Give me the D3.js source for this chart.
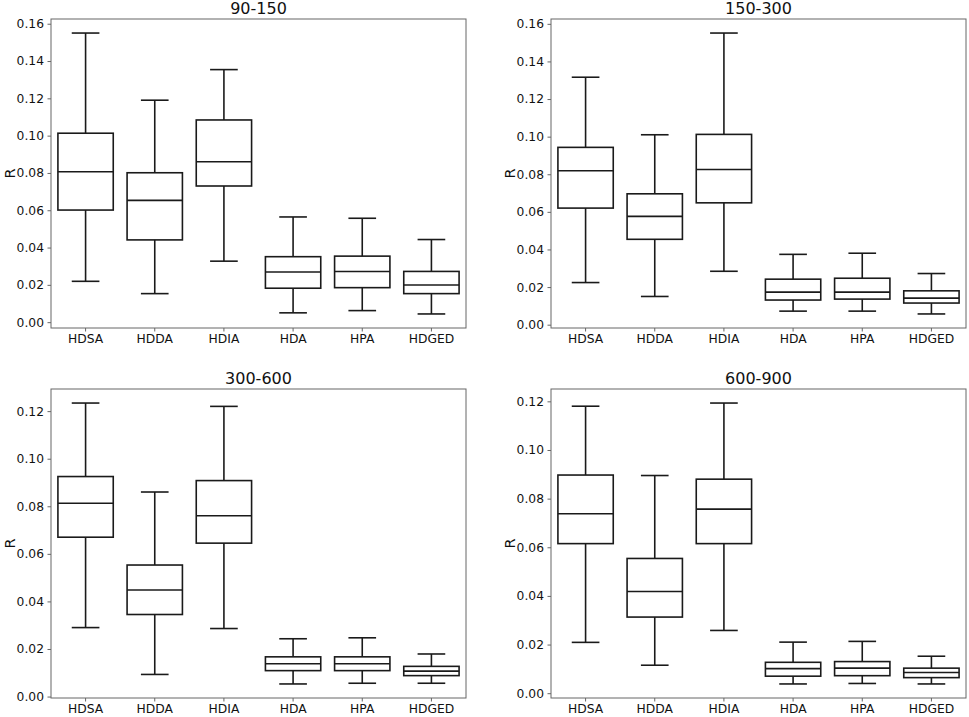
<!DOCTYPE html>
<html lang="en">
<head>
    <meta charset="UTF-8">
    <title>R by distance band</title>
    <script src="https://d3js.org/d3.v7.min.js"></script>
    <style>
        body {
            margin: 0;
            background-color: #ffffff;
            font-family: 'DejaVu Sans', sans-serif;
        }
        .axis path, .axis line {
            stroke: #666;
        }
        .axis text {
            font-family: 'DejaVu Sans', sans-serif;
            font-size: 12.3px;
            fill: #111;
        }
        .box {
            fill: none;
            stroke: #1a1a1a;
            stroke-width: 1.6px;
        }
    </style>
</head>
<body>
    <div id="chart"></div>
    <script>
        // methods on the x axis
        const categories = ["HDSA", "HDDA", "HDIA", "HDA", "HPA", "HDGED"];
        const titles = ["90-150", "150-300", "300-600", "600-900"];

        // each entry: [whisker low, Q1, median, Q3, whisker high]
        const r90_150 = [
            [0.0219, 0.0601, 0.0806, 0.1013, 0.1550],
            [0.0153, 0.0441, 0.0653, 0.0801, 0.1190],
            [0.0327, 0.0730, 0.0860, 0.1084, 0.1354],
            [0.0050, 0.0182, 0.0269, 0.0351, 0.0564],
            [0.0062, 0.0185, 0.0272, 0.0354, 0.0557],
            [0.0044, 0.0153, 0.0199, 0.0272, 0.0443]
        ];
        const r150_300 = [
            [0.0224, 0.0620, 0.0819, 0.0943, 0.1316],
            [0.0150, 0.0454, 0.0576, 0.0696, 0.1010],
            [0.0284, 0.0648, 0.0825, 0.1012, 0.1551],
            [0.0072, 0.0131, 0.0173, 0.0242, 0.0374],
            [0.0072, 0.0136, 0.0173, 0.0247, 0.0380],
            [0.0057, 0.0115, 0.0141, 0.0180, 0.0272]
        ];
        const r300_600 = [
            [0.0290, 0.0670, 0.0813, 0.0925, 0.1234],
            [0.0093, 0.0345, 0.0448, 0.0553, 0.0860],
            [0.0286, 0.0645, 0.0760, 0.0908, 0.1220],
            [0.0053, 0.0109, 0.0138, 0.0167, 0.0243],
            [0.0056, 0.0109, 0.0138, 0.0167, 0.0247],
            [0.0056, 0.0088, 0.0107, 0.0127, 0.0179]
        ];
        const r600_900 = [
            [0.0209, 0.0615, 0.0738, 0.0897, 0.1180],
            [0.0115, 0.0313, 0.0418, 0.0554, 0.0895],
            [0.0258, 0.0615, 0.0757, 0.0880, 0.1193],
            [0.0038, 0.0070, 0.0101, 0.0127, 0.0210],
            [0.0040, 0.0072, 0.0103, 0.0130, 0.0213],
            [0.0038, 0.0064, 0.0085, 0.0103, 0.0152]
        ];
        const panelData = [r90_150, r150_300, r300_600, r600_900];

        const W = 969, H = 717;
        // plot area of each panel (left, top) and shared size
        const panelPos = [[51, 19], [551, 19], [51, 389], [551, 389]];
        const pw = 415, ph = 309;

        const svg = d3.select("#chart")
            .append("svg")
            .attr("width", W)
            .attr("height", H);

        panelData.forEach((rows, i) => {
            const [left, top] = panelPos[i];
            const g = svg.append("g").attr("transform", `translate(${left},${top})`);

            // matplotlib style 5% margins around the whiskers
            const lo = d3.min(rows, d => d[0]);
            const hi = d3.max(rows, d => d[4]);
            const pad = (hi - lo) * 0.05;

            const y = d3.scaleLinear()
                .domain([lo - pad, hi + pad])
                .range([ph, 0]);
            const x = d3.scaleBand()
                .domain(categories)
                .range([0, pw])
                .paddingInner(0.2)
                .paddingOuter(0.1);

            const yTicks = d3.range(0, y.domain()[1] + 1e-9, 0.02);

            g.append("g")
                .attr("class", "axis")
                .call(d3.axisLeft(y).tickValues(yTicks).tickFormat(d3.format(".2f")).tickSize(3.5).tickPadding(3.5))
                .call(a => a.select(".domain").remove());

            g.append("g")
                .attr("class", "axis")
                .attr("transform", `translate(0,${ph})`)
                .call(d3.axisBottom(x).tickSize(3.5).tickPadding(3))
                .call(a => a.select(".domain").remove());

            // frame
            g.append("rect")
                .attr("width", pw)
                .attr("height", ph)
                .attr("fill", "none")
                .attr("stroke", "#666")
                .attr("stroke-width", 1);

            const boxes = g.selectAll(".b")
                .data(rows.map((d, j) => ({ cat: categories[j], v: d })))
                .enter().append("g");

            boxes.each(function(d) {
                const b = d3.select(this);
                const x0 = x(d.cat), bw = x.bandwidth(), cx = x0 + bw / 2;
                const capW = bw / 4;
                // whiskers
                b.append("line").attr("class", "box")
                    .attr("x1", cx).attr("x2", cx)
                    .attr("y1", y(d.v[0])).attr("y2", y(d.v[1]));
                b.append("line").attr("class", "box")
                    .attr("x1", cx).attr("x2", cx)
                    .attr("y1", y(d.v[3])).attr("y2", y(d.v[4]));
                b.append("line").attr("class", "box")
                    .attr("x1", cx - capW).attr("x2", cx + capW)
                    .attr("y1", y(d.v[0])).attr("y2", y(d.v[0]));
                b.append("line").attr("class", "box")
                    .attr("x1", cx - capW).attr("x2", cx + capW)
                    .attr("y1", y(d.v[4])).attr("y2", y(d.v[4]));
                // box and median
                b.append("rect").attr("class", "box")
                    .attr("x", x0).attr("width", bw)
                    .attr("y", y(d.v[3]))
                    .attr("height", y(d.v[1]) - y(d.v[3]));
                b.append("line").attr("class", "box")
                    .attr("x1", x0).attr("x2", x0 + bw)
                    .attr("y1", y(d.v[2])).attr("y2", y(d.v[2]));
            });

            // title
            g.append("text")
                .attr("x", pw / 2)
                .attr("y", -5)
                .attr("text-anchor", "middle")
                .style("font-size", "16px")
                .style("fill", "#111")
                .text(titles[i]);

            // y label
            g.append("text")
                .attr("transform", `translate(-36,${ph / 2}) rotate(-90)`)
                .attr("text-anchor", "middle")
                .style("font-size", "14.5px")
                .style("fill", "#111")
                .text("R");
        });
    </script>
</body>
</html>
